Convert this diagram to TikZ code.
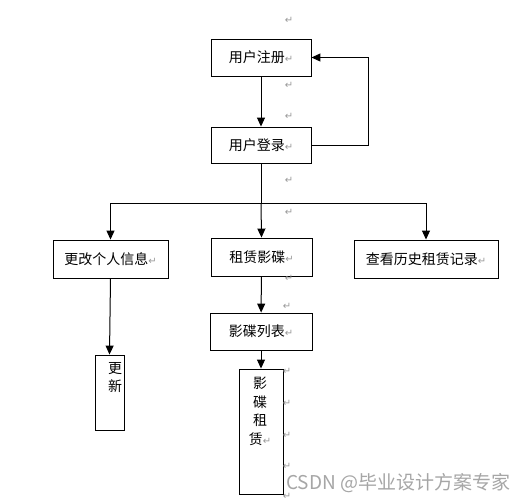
\documentclass[tikz,border=0pt]{standalone}
\usepackage{fontspec}
\newfontfamily\cjk{Noto Sans CJK SC}
\newfontfamily\symb{DejaVu Sans}
\usetikzlibrary{arrows.meta}

\tikzset{
  box/.style={draw, line width=0.9pt, inner sep=0pt, font=\cjk\fontsize{14}{16}\selectfont},
  flow/.style={-{Triangle[length=9pt,width=8pt]}, line width=1pt},
  parmark/.style={text=gray!80, inner sep=0pt, font=\symb\fontsize{10}{10}\selectfont},
  vtext/.style={align=center, inner sep=0pt, font=\cjk\fontsize{14}{18.5}\selectfont}
}
\newcommand{\ret}{{\symb\color{gray!80}\fontsize{10}{10}\selectfont ↵}}

\begin{document}
\begin{tikzpicture}[x=1pt,y=-1pt]
            \fill[white] (0,0) rectangle (532,503);
            \useasboundingbox (0,0) rectangle (532,503);
            % boxes
            \node[box, minimum width=100pt, minimum height=37pt] (reg) at (261, 57.5) {用户注册\ret};
            \node[box, minimum width=100pt, minimum height=36pt] (login) at (261, 145) {用户登录\ret};
            \node[box, minimum width=115pt, minimum height=38pt] (modify) at (110.5, 259) {更改个人信息\ret};
            \node[box, minimum width=101pt, minimum height=38pt] (rent) at (261.5, 257) {租赁影碟\ret};
            \node[box, minimum width=144pt, minimum height=38pt] (history) at (426, 259) {查看历史租赁记录\ret};
            \node[box, minimum width=102pt, minimum height=37pt] (list) at (261, 331.5) {影碟列表\ret};
            \node[box, minimum width=29pt, minimum height=75pt] (update) at (109.5, 392.5) {};
            \node[box, minimum width=44pt, minimum height=125pt] (lease) at (261, 431.5) {};
            \node[vtext, anchor=north] (updatetext) at (115, 362) {更\\新};
            \node[vtext, anchor=north] (leasetext) at (260, 377) {影\\碟\\租\\赁\ret};
            % connectors
            \coordinate (bus) at (261, 203);
            \draw[flow] (reg) -- (login);
            \draw[flow] (login.east) -- ++(57,0) |- (reg.east);
            \draw[line width=1pt] (login.south) -- (bus);
            \draw[flow] (bus) -| (modify.north);
            \draw[flow] (bus) -- (rent.north);
            \draw[flow] (bus) -| (history.north);
            \draw[flow] (rent) -- (list);
            \draw[flow] (list.south) -- (lease.north);
            \draw[flow] (modify.south) -- (update.north);
            % paragraph marks
            \node[parmark] (p1) at (289, 20) {↵};
            \node[parmark] (p2) at (289, 85) {↵};
            \node[parmark] (p3) at (289, 116) {↵};
            \node[parmark] (p4) at (289, 180) {↵};
            \node[parmark] (p5) at (289, 212) {↵};
            \node[parmark] (p6) at (289, 278) {↵};
            \node[parmark] (p7) at (287, 306) {↵};
            \node[parmark] (p8) at (287, 371) {↵};
            \node[parmark] (p9) at (287, 403) {↵};
            \node[parmark] (p10) at (287, 435) {↵};
            \node[parmark] (p11) at (287, 466) {↵};
            \node[parmark] (p12) at (287, 496) {↵};
            % watermark
            \node[anchor=west, inner sep=0pt, text=gray!70, font=\cjk\fontsize{19}{19}\selectfont] (wm) at (286, 483) {CSDN @毕业设计方案专家};
        \end{tikzpicture}
\end{document}
